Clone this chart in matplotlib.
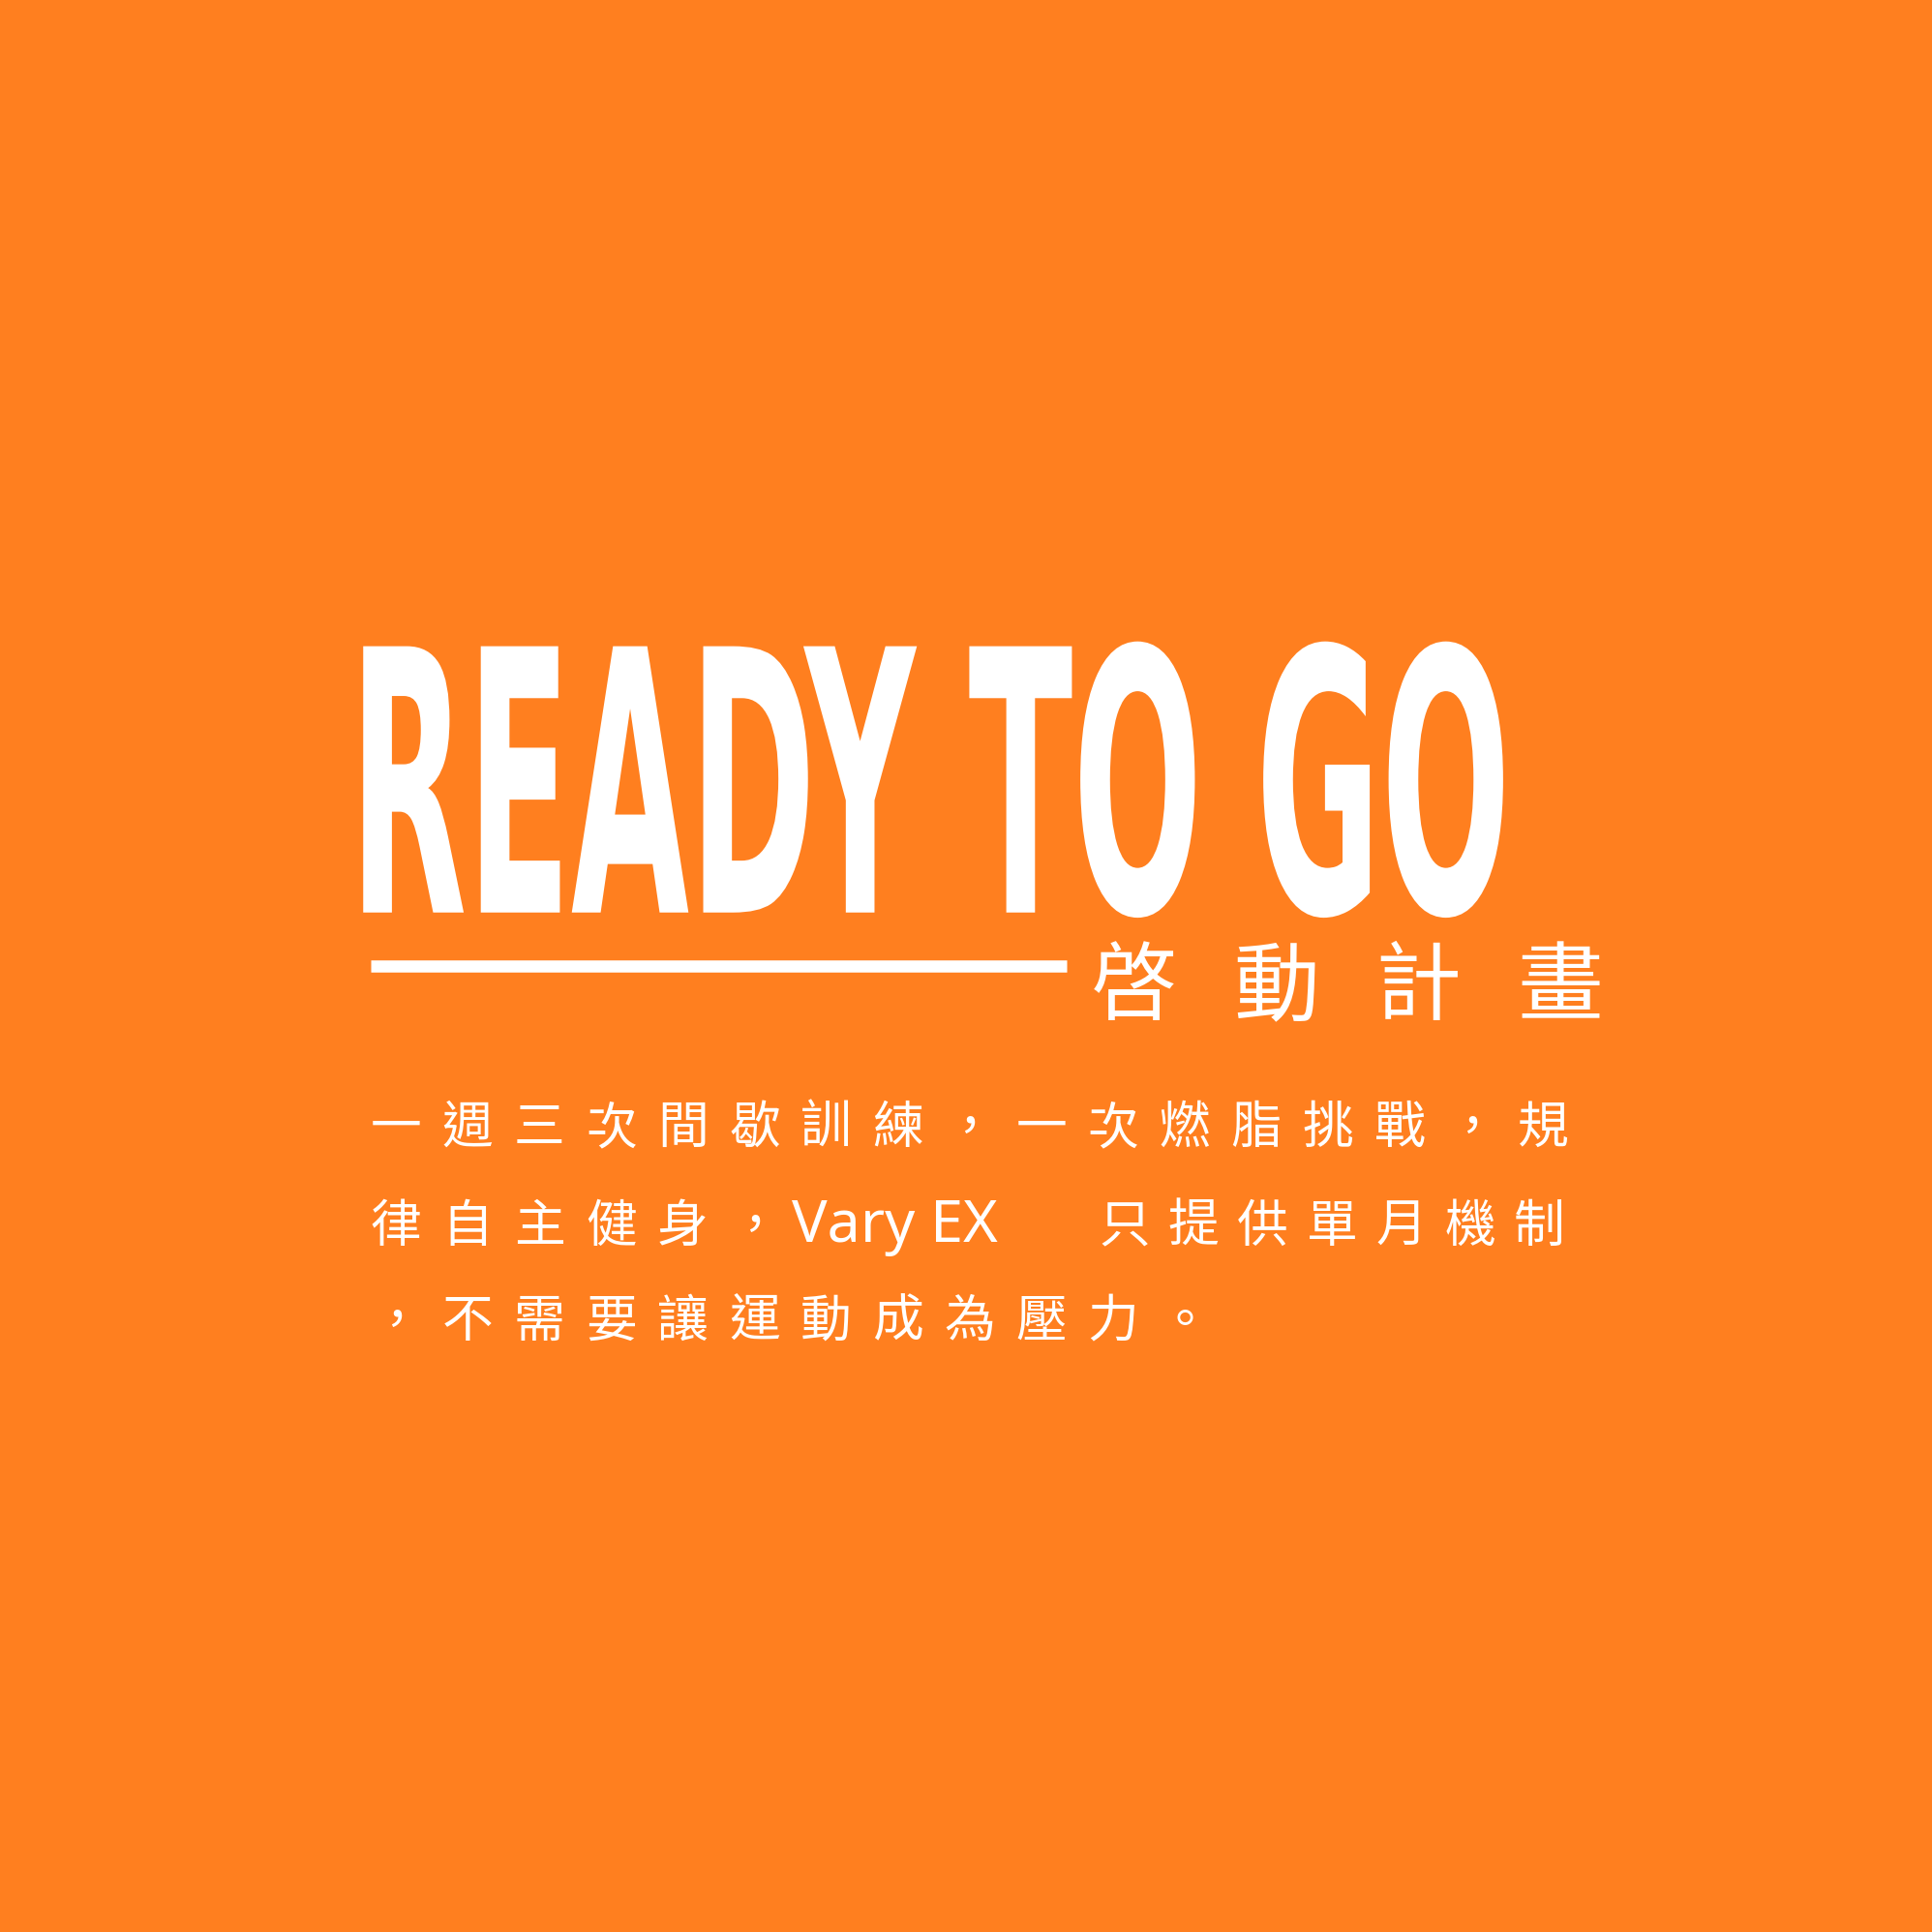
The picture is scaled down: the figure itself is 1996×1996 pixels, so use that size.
import matplotlib
matplotlib.use("Agg")
import matplotlib.pyplot as plt
from matplotlib.textpath import TextPath
from matplotlib.patches import PathPatch
from matplotlib.font_manager import FontProperties
from matplotlib.transforms import Affine2D

BG = "#FF7F1F"
title = "READY TO GO"
subtitle = list("啓動計畫")
line1 = list("一週三次間歇訓練，一次燃脂挑戰，規")
line2a = list("律自主健身，")
line2b = "Vary EX"
line2c = list("只提供單月機制")
line3 = list("，不需要讓運動成為壓力。")

fig = plt.figure(figsize=(19.96, 19.96), dpi=100)
fig.patch.set_facecolor(BG)
ax = fig.add_axes([0, 0, 1, 1])
ax.set_xlim(0, 1)
ax.set_ylim(0, 1)
ax.axis("off")

# title stretched into its box
fp = FontProperties(family="Liberation Sans Narrow", weight="bold")
tp = TextPath((0, 0), title, size=1, prop=fp)
bb = tp.get_extents()
x0, x1, y0, y1 = 0.188, 0.778, 0.525, 0.668
tr = Affine2D().translate(-bb.x0, -bb.y0).scale((x1 - x0) / bb.width, (y1 - y0) / bb.height).translate(x0, y0)
ax.add_patch(PathPatch(tr.transform_path(tp), fc="white", ec="none"))

# rule
ax.plot([0.192, 0.552], [0.500, 0.500], color="white", lw=9, solid_capstyle="butt")

cjk = ["Noto Sans CJK TC", "DejaVu Sans"]
for i, ch in enumerate(subtitle):
    ax.text(0.587 + i * 0.0735, 0.488, ch, color="white", fontsize=64, family=cjk,
            ha="center", va="center")

def row(chars, x, y, pitch):
    for i, ch in enumerate(chars):
        ax.text(x + i * pitch, y, ch, color="white", fontsize=38, family=cjk,
                fontweight="light", ha="center", va="center")

row(line1, 0.205, 0.416, 0.0371)
row(line2a, 0.205, 0.365, 0.0371)
ax.text(0.410, 0.365, line2b, color="white", fontsize=44, family=["Noto Sans", "DejaVu Sans"],
        fontweight="light", ha="left", va="center")
row(line2c, 0.582, 0.365, 0.0358)
row(line3, 0.205, 0.316, 0.0371)

fig.savefig("out.png", dpi=100, facecolor=BG)
